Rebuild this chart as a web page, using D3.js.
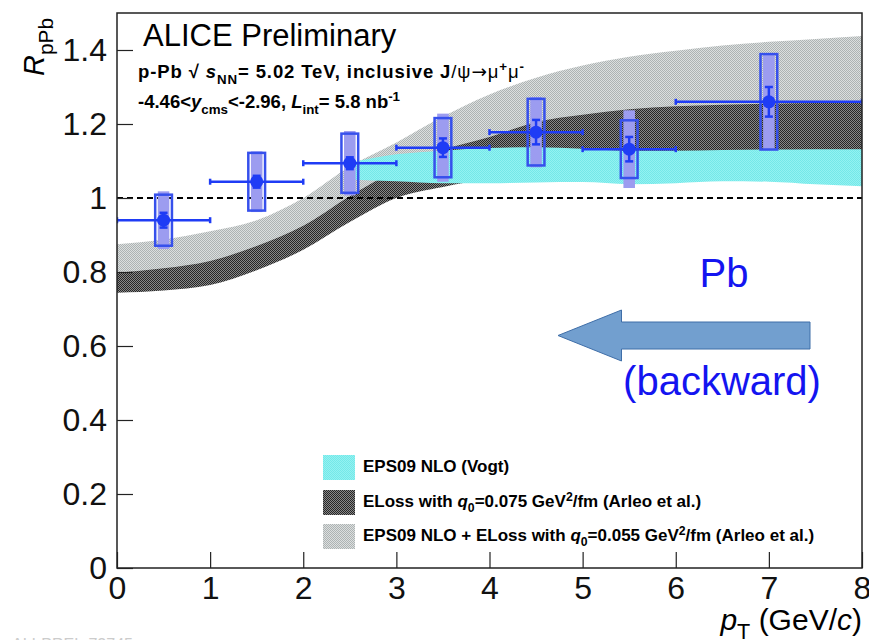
<!DOCTYPE html>
<html><head><meta charset="utf-8">
<script src="https://cdn.jsdelivr.net/npm/d3@7"></script>
<style>
html,body{margin:0;padding:0;background:#fff;}
svg{display:block;font-family:"Liberation Sans",Arial,Helvetica,sans-serif;}
</style></head>
<body>
<svg id="chart" width="869" height="640"></svg>
<script>
// ---------------- data ----------------
const ptCenter = [0.5, 1.5, 2.5, 3.5, 4.5, 5.5, 7];
const ptLow    = [0, 1, 2, 3, 4, 5, 6];
const ptHigh   = [1, 2, 3, 4, 5, 6, 8];
const rpPb     = [0.94, 1.044, 1.094, 1.136, 1.178, 1.132, 1.26];
const statErr  = [0.02, 0.016, 0.016, 0.025, 0.033, 0.033, 0.04];
const sysUncorr= [0.069, 0.078, 0.08, 0.08, 0.09, 0.078, 0.129];
const sysCorr  = [0.078, 0.082, 0.087, 0.092, 0.095, 0.105, 0.13];

const bandPt    = [0, 0.5, 1, 1.5, 2, 2.5, 3, 3.5, 4, 4.5, 5, 5.5, 6, 6.5, 7, 7.5, 8];
const lightHigh = [0.875, 0.888, 0.91, 0.94, 1.0, 1.085, 1.15, 1.22, 1.28, 1.325, 1.358, 1.382, 1.398, 1.412, 1.422, 1.43, 1.438];
const lightLow  = [0.79, 0.80, 0.82, 0.86, 0.915, 0.995, 1.065, 1.12, 1.155, 1.195, 1.215, 1.23, 1.24, 1.245, 1.248, 1.25, 1.25];
const darkHigh  = [0.798, 0.81, 0.83, 0.87, 0.925, 1.005, 1.075, 1.13, 1.165, 1.205, 1.225, 1.24, 1.248, 1.252, 1.255, 1.257, 1.258];
const darkLow   = [0.744, 0.75, 0.765, 0.805, 0.86, 0.935, 1.0, 1.03, 1.05, 1.055, 1.06, 1.06, 1.06, 1.06, 1.06, 1.06, 1.06];

const cyanPt   = [2.5, 3, 3.5, 4, 4.5, 5, 5.5, 6, 6.5, 7, 7.5, 8];
const cyanHigh = [1.095, 1.118, 1.128, 1.135, 1.137, 1.133, 1.128, 1.128, 1.13, 1.131, 1.132, 1.132];
const cyanLow  = [1.05, 1.045, 1.04, 1.04, 1.042, 1.043, 1.037, 1.04, 1.045, 1.044, 1.037, 1.032];

const xTicks = [0, 1, 2, 3, 4, 5, 6, 7, 8];
const yTicks = [0, 0.2, 0.4, 0.6, 0.8, 1, 1.2, 1.4];
const yTickLabels = ["0", "0.2", "0.4", "0.6", "0.8", "1", "1.2", "1.4"];

const legendLabels = [
  [{t:"EPS09 NLO (Vogt)"}],
  [{t:"ELoss with  "},{t:"q",i:true},{t:"0",sub:true},{t:"=0.075 GeV"},{t:"2",sup:true},{t:"/fm (Arleo et al.)"}],
  [{t:"EPS09 NLO + ELoss with  "},{t:"q",i:true},{t:"0",sub:true},{t:"=0.055 GeV"},{t:"2",sup:true},{t:"/fm (Arleo et al.)"}]
];

// ---------------- setup ----------------
const svg = d3.select("#chart");
const L = 117, R = 862, T = 13, B = 568;
const x = d3.scaleLinear().domain([0, 8]).range([L, R]);
const y = d3.scaleLinear().domain([0, 1.5]).range([B, T]);

const defs = svg.append("defs");
function checker(id, c1, c2) {
  const p = defs.append("pattern").attr("id", id).attr("patternUnits", "userSpaceOnUse")
    .attr("width", 2).attr("height", 2);
  p.append("rect").attr("width", 2).attr("height", 2).attr("fill", c2);
  p.append("rect").attr("width", 1).attr("height", 1).attr("fill", c1);
  p.append("rect").attr("x", 1).attr("y", 1).attr("width", 1).attr("height", 1).attr("fill", c1);
}
checker("patLight", "#adb3b3", "#dcdfdf");
checker("patDark", "#262626", "#888888");
checker("patCyan", "#74e8e8", "#94f2f2");
defs.append("clipPath").attr("id", "clip").append("rect")
  .attr("x", L).attr("y", T).attr("width", R - L).attr("height", B - T);

const gPlot = svg.append("g").attr("clip-path", "url(#clip)");

function band(xs, lo, hi, fill) {
  const data = xs.map((v, i) => ({x: v, lo: lo[i], hi: hi[i]}));
  const area = d3.area().x(d => x(d.x)).y0(d => y(d.lo)).y1(d => y(d.hi)).curve(d3.curveMonotoneX);
  gPlot.append("path").datum(data).attr("d", area).attr("fill", fill);
}
band(bandPt, lightLow, lightHigh, "url(#patLight)");
band(bandPt, darkLow, darkHigh, "url(#patDark)");
band(cyanPt, cyanLow, cyanHigh, "url(#patCyan)");

gPlot.append("line").attr("x1", x(0)).attr("x2", x(8)).attr("y1", y(1)).attr("y2", y(1))
  .attr("stroke", "#000").attr("stroke-width", 2).attr("stroke-dasharray", "6,4");

// ---------------- data points ----------------
const blue = "#1f3cf5";
const pts = ptCenter.map((c, i) => ({c, lo: ptLow[i], hi: ptHigh[i], v: rpPb[i], s: statErr[i], su: sysUncorr[i], sc: sysCorr[i]}));
const gPts = gPlot.append("g");
gPts.selectAll("rect.corr").data(pts).enter().append("rect")
  .attr("x", d => x(d.c - 0.062)).attr("width", d => x(d.c + 0.062) - x(d.c - 0.062))
  .attr("y", d => y(d.v + d.sc)).attr("height", d => y(d.v - d.sc) - y(d.v + d.sc))
  .attr("fill", "#9c9cf0");
gPts.selectAll("rect.unc").data(pts).enter().append("rect")
  .attr("x", d => x(d.c - 0.09)).attr("width", d => x(d.c + 0.09) - x(d.c - 0.09))
  .attr("y", d => y(d.v + d.su)).attr("height", d => y(d.v - d.su) - y(d.v + d.su))
  .attr("fill", "none").attr("stroke", "#3650ec").attr("stroke-width", 2.5);
gPts.selectAll("line.h").data(pts).enter().append("line")
  .attr("x1", d => x(d.lo)).attr("x2", d => x(d.hi)).attr("y1", d => y(d.v)).attr("y2", d => y(d.v))
  .attr("stroke", blue).attr("stroke-width", 2.5);
gPts.selectAll("line.cl").data(pts).enter().append("line")
  .attr("x1", d => x(d.lo)).attr("x2", d => x(d.lo)).attr("y1", d => y(d.v) - 3).attr("y2", d => y(d.v) + 3)
  .attr("stroke", blue).attr("stroke-width", 2.5);
gPts.selectAll("line.cr").data(pts).enter().append("line")
  .attr("x1", d => x(d.hi)).attr("x2", d => x(d.hi)).attr("y1", d => y(d.v) - 3).attr("y2", d => y(d.v) + 3)
  .attr("stroke", blue).attr("stroke-width", 2.5);
gPts.selectAll("line.v").data(pts).enter().append("line")
  .attr("x1", d => x(d.c)).attr("x2", d => x(d.c)).attr("y1", d => y(d.v + d.s)).attr("y2", d => y(d.v - d.s))
  .attr("stroke", blue).attr("stroke-width", 2.5);
["+", "-"].forEach(sg => {
  gPts.selectAll("line.cap" + (sg === "+" ? "u" : "d")).data(pts).enter().append("line")
    .attr("x1", d => x(d.c) - 4).attr("x2", d => x(d.c) + 4)
    .attr("y1", d => y(sg === "+" ? d.v + d.s : d.v - d.s)).attr("y2", d => y(sg === "+" ? d.v + d.s : d.v - d.s))
    .attr("stroke", blue).attr("stroke-width", 2.5);
});
gPts.selectAll("circle").data(pts).enter().append("circle")
  .attr("cx", d => x(d.c)).attr("cy", d => y(d.v)).attr("r", 6.5).attr("fill", blue);

// ---------------- axes ----------------
const axisColor = "#222";
const xMinor = d3.range(0, 8.0001, 0.2);
const yMinor = d3.range(0, 1.5001, 0.05);
const gx = svg.append("g").attr("transform", `translate(0,${B})`);
gx.call(d3.axisBottom(x).tickValues(xMinor).tickSize(-8).tickFormat(""));
gx.call(d3.axisBottom(x).tickValues(xTicks).tickSize(-16).tickPadding(8).tickFormat(d3.format("d")));
const gy = svg.append("g").attr("transform", `translate(${L},0)`);
gy.call(d3.axisLeft(y).tickValues(yMinor).tickSize(-8).tickFormat(""));
gy.call(d3.axisLeft(y).tickValues(yTicks).tickSize(-16).tickPadding(10).tickFormat((d, i) => yTickLabels[i]));
[gx, gy].forEach(g => {
  g.selectAll(".domain").remove();
  g.selectAll("line").attr("stroke", axisColor).attr("stroke-width", 1.2);
  g.selectAll("text").attr("font-size", 32).attr("fill", "#111").attr("font-family", "Liberation Sans, Arial, sans-serif");
});
svg.append("rect").attr("x", L).attr("y", T).attr("width", R - L).attr("height", B - T)
  .attr("fill", "none").attr("stroke", axisColor).attr("stroke-width", 1.5);

// ---------------- rich text helper ----------------
function rich(parent, segs, px, py, size, opts = {}) {
  const t = parent.append("text").attr("x", px).attr("y", py).attr("font-size", size)
    .attr("font-weight", opts.bold ? "bold" : "normal").attr("fill", opts.fill || "#000");
  if (opts.anchor) t.attr("text-anchor", opts.anchor);
  if (opts.transform) t.attr("transform", opts.transform);
  if (opts.len) t.attr("textLength", opts.len).attr("lengthAdjust", "spacing");
  let shift = 0;
  segs.forEach(s => {
    const sp = t.append("tspan").text(s.t);
    let target = 0, fs = size;
    if (s.sub) { target = size * 0.3; fs = size * 0.72; }
    if (s.sup) { target = -size * 0.38; fs = size * 0.72; }
    sp.attr("dy", target - shift).attr("font-size", fs);
    shift = target;
    if (s.i) sp.attr("font-style", "italic");
    if (s.n) sp.attr("font-weight", "normal");
    if (s.f) sp.attr("font-family", s.f);
  });
  return t;
}

svg.append("text").attr("x", 143).attr("y", 46).attr("font-size", 31).attr("fill", "#000").text("ALICE Preliminary");
rich(svg, [{t:"p-Pb   √ "},{t:"s",i:true},{t:"NN",sub:true},{t:"= 5.02 TeV, inclusive J"},{t:"/ψ",n:true},{t:"→",n:true,f:"DejaVu Sans"},{t:"μ",n:true},{t:"+",sup:true},{t:"μ",n:true},{t:"-",sup:true}], 138, 78, 18.5, {bold:true, len:386});
rich(svg, [{t:"-4.46<"},{t:"y",i:true},{t:"cms",sub:true},{t:"<-2.96,  "},{t:"L",i:true},{t:"int",sub:true},{t:"= 5.8 nb"},{t:"-1",sup:true}], 138, 108, 18.5, {bold:true});

rich(svg, [{t:"R",i:true},{t:"pPb",sub:true}], 0, 0, 29, {transform:"translate(44,76) rotate(-90)"});
rich(svg, [{t:"p",i:true},{t:"T",sub:true},{t:" (GeV/"},{t:"c",i:true},{t:")"}], R, 630, 30, {anchor:"end"});

const legFills = ["url(#patCyan)", "url(#patDark)", "url(#patLight)"];
const legY = [455, 490, 524];
legendLabels.forEach((segs, i) => {
  svg.append("rect").attr("x", 323).attr("y", legY[i]).attr("width", 32).attr("height", 25).attr("fill", legFills[i]);
  rich(svg, segs, 363, legY[i] + 17, 17, {bold:true});
});

const arrowPts = [[558, 335.5], [621.5, 310], [621.5, 322], [810, 322], [810, 349], [621.5, 349], [621.5, 361]];
svg.append("path").attr("d", d3.line()(arrowPts) + "Z").attr("fill", "#729fcf").attr("stroke", "#3f6ea8").attr("stroke-width", 1);
svg.append("text").attr("x", 724).attr("y", 287).attr("text-anchor", "middle").attr("font-size", 40).attr("fill", "#1414f0").text("Pb");
svg.append("text").attr("x", 722).attr("y", 395).attr("text-anchor", "middle").attr("font-size", 40).attr("fill", "#1414f0").text("(backward)");

svg.append("text").attr("x", 12).attr("y", 650).attr("font-size", 16).attr("fill", "#ccc").text("ALI-PREL-72745");
</script>
</body></html>
